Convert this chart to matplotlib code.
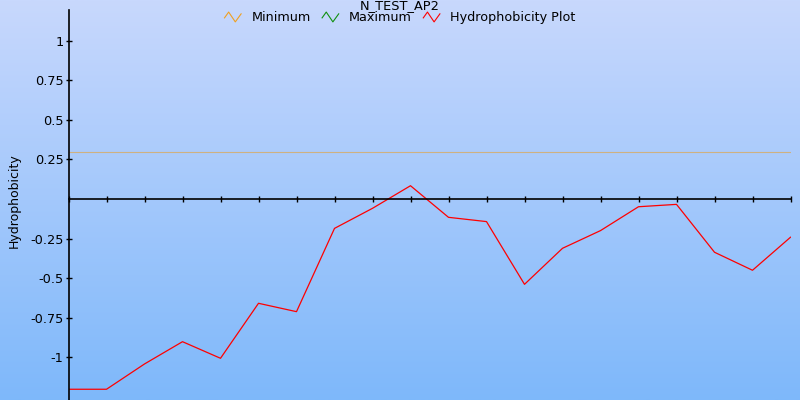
import numpy as np
import matplotlib.pyplot as plt
from matplotlib.lines import Line2D
from matplotlib.legend_handler import HandlerBase

# hydrophobicity values per window position
positions = list(range(20))
hydro = [-1.204, -1.204, -1.044, -0.903, -1.008, -0.66, -0.713, -0.186, -0.059, 0.084,
         -0.116, -0.143, -0.54, -0.312, -0.2, -0.049, -0.034, -0.337, -0.451, -0.242]
minimum = 0.3
yticks = [1, 0.75, 0.5, 0.25, -0.25, -0.5, -0.75, -1]
ytick_labels = ['1', '0.75', '0.5', '0.25', '-0.25', '-0.5', '-0.75', '-1']
legend_labels = ['Minimum', 'Maximum', 'Hydrophobicity Plot']
legend_colors = ['#f0a020', '#109010', '#ff0000']


class ZigZagHandler(HandlerBase):
    # small "/\/" icon like the original legend
    def create_artists(self, legend, orig_handle, xdescent, ydescent,
                       width, height, fontsize, trans):
        xs = np.array([0.0, 0.25, 0.65, 1.0]) * width - xdescent
        ys = np.array([0.35, 1.0, -0.1, 0.8]) * height - ydescent
        line = Line2D(xs, ys, color=orig_handle.get_color(), lw=0.8, transform=trans)
        return [line]


fig = plt.figure(figsize=(8, 4), dpi=100)

# gradient background
bg = fig.add_axes([0, 0, 1, 1], zorder=-1)
top = np.array([200, 216, 253]) / 255
bottom = np.array([126, 184, 250]) / 255
t = np.linspace(0, 1, 256)[:, None]
grad = (top[None, :] * (1 - t) + bottom[None, :] * t)[:, None, :]
bg.imshow(grad, aspect='auto', extent=[0, 1, 0, 1])
bg.axis('off')

left, right = 68.5 / 800, 790.5 / 800
ax = fig.add_axes([left, 0, right - left, 1 - 10 / 400])
ax.set_facecolor('none')
ax.set_xlim(0, 19)
ax.set_ylim(-1.272, 1.196)

ax.axhline(minimum, color='#e8a030', lw=0.8, alpha=0.6)
ax.plot(positions, hydro, color='#ff0000', lw=0.9)

ax.spines['top'].set_visible(False)
ax.spines['right'].set_visible(False)
ax.spines['bottom'].set_position(('data', 0))
ax.spines['bottom'].set_linewidth(1.2)
ax.spines['left'].set_linewidth(1.2)

ax.set_xticks(positions)
ax.set_xticklabels([])
ax.set_yticks(yticks)
ax.set_yticklabels(ytick_labels)
ax.tick_params(axis='both', direction='inout', length=5, width=1, labelsize=9.3, pad=1)
ax.set_ylabel('Hydrophobicity', fontsize=9)
ax.yaxis.set_label_coords((21 - 68.5) / 722, 0.51)

fig.text(0.5, 1 - 9.5 / 400, 'N_TEST_AP2', ha='center', va='baseline', fontsize=9.3)

handles = [Line2D([], [], color=c) for c in legend_colors]
fig.legend(handles, legend_labels, ncol=3, loc='center', bbox_to_anchor=(0.5, 1 - 17.5 / 400),
           frameon=False, fontsize=9.2, handlelength=1.3, handleheight=0.7,
           handletextpad=0.8, columnspacing=0.9, borderpad=0, borderaxespad=0,
           handler_map={Line2D: ZigZagHandler()})

fig.savefig('out.png', dpi=100)
